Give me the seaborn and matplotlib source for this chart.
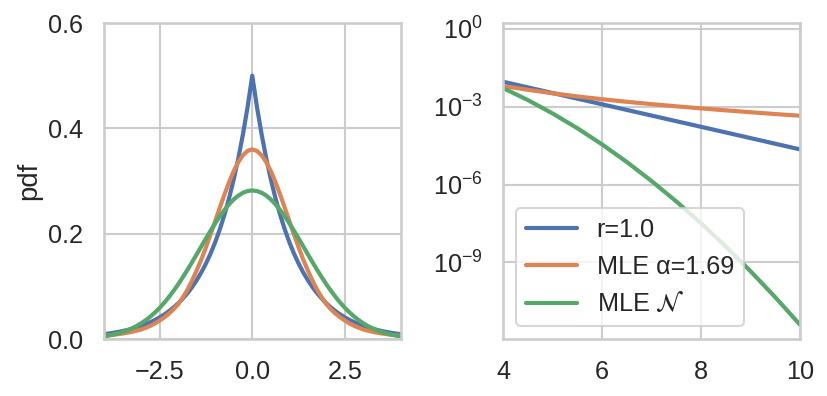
import numpy as np
import pandas as pd
import matplotlib
matplotlib.use("Agg")
import matplotlib.pyplot as plt
import seaborn as sns

# ---- data ----
x_body = [-4.0, -3.875, -3.75, -3.625, -3.5, -3.375, -3.25, -3.125, -3.0, -2.875, -2.75, -2.625,
          -2.5, -2.375, -2.25, -2.125, -2.0, -1.875, -1.75, -1.625, -1.5, -1.375, -1.25, -1.125,
          -1.0, -0.875, -0.75, -0.625, -0.5, -0.375, -0.25, -0.125,
          0.0, 0.125, 0.25, 0.375, 0.5, 0.625, 0.75, 0.875, 1.0, 1.125, 1.25, 1.375, 1.5,
          1.625, 1.75, 1.875, 2.0, 2.125, 2.25, 2.375, 2.5, 2.625, 2.75, 2.875, 3.0, 3.125,
          3.25, 3.375, 3.5, 3.625, 3.75, 3.875, 4.0]
laplace_body = [0.0092, 0.0104, 0.0118, 0.0133, 0.0151, 0.0171, 0.0194, 0.0220, 0.0249, 0.0282,
                0.0320, 0.0362, 0.0410, 0.0465, 0.0527, 0.0597, 0.0677, 0.0767, 0.0869, 0.0984,
                0.1116, 0.1264, 0.1433, 0.1623, 0.1839, 0.2084, 0.2362, 0.2676, 0.3033, 0.3436,
                0.3894, 0.4412,
                0.5000, 0.4412, 0.3894, 0.3436, 0.3033, 0.2676, 0.2362, 0.2084, 0.1839, 0.1623,
                0.1433, 0.1264, 0.1116, 0.0984, 0.0869, 0.0767, 0.0677, 0.0597, 0.0527, 0.0465,
                0.0410, 0.0362, 0.0320, 0.0282, 0.0249, 0.0220, 0.0194, 0.0171, 0.0151, 0.0133,
                0.0118, 0.0104, 0.0092]
stable_body = [0.0063, 0.0071, 0.0081, 0.0092, 0.0104, 0.0119, 0.0136, 0.0157, 0.0181, 0.0213,
               0.0250, 0.0296, 0.0350, 0.0410, 0.0480, 0.0562, 0.0660, 0.0788, 0.0934, 0.1108,
               0.1300, 0.1509, 0.1740, 0.1985, 0.2240, 0.2496, 0.2745, 0.2979, 0.3190, 0.3361,
               0.3490, 0.3572,
               0.3600, 0.3572, 0.3490, 0.3361, 0.3190, 0.2979, 0.2745, 0.2496, 0.2240, 0.1985,
               0.1740, 0.1509, 0.1300, 0.1108, 0.0934, 0.0788, 0.0660, 0.0562, 0.0480, 0.0410,
               0.0350, 0.0296, 0.0250, 0.0213, 0.0181, 0.0157, 0.0136, 0.0119, 0.0104, 0.0092,
               0.0081, 0.0071, 0.0063]
normal_body = [0.0052, 0.0066, 0.0084, 0.0106, 0.0132, 0.0164, 0.0201, 0.0245, 0.0297, 0.0357,
               0.0426, 0.0504, 0.0591, 0.0689, 0.0796, 0.0912, 0.1038, 0.1171, 0.1312, 0.1458,
               0.1607, 0.1759, 0.1909, 0.2056, 0.2197, 0.2330, 0.2451, 0.2559, 0.2650, 0.2724,
               0.2777, 0.2810,
               0.2821, 0.2810, 0.2777, 0.2724, 0.2650, 0.2559, 0.2451, 0.2330, 0.2197, 0.2056,
               0.1909, 0.1759, 0.1607, 0.1458, 0.1312, 0.1171, 0.1038, 0.0912, 0.0796, 0.0689,
               0.0591, 0.0504, 0.0426, 0.0357, 0.0297, 0.0245, 0.0201, 0.0164, 0.0132, 0.0106,
               0.0084, 0.0066, 0.0052]

x_tail = [4.0, 4.5, 5.0, 5.5, 6.0, 6.5, 7.0, 7.5, 8.0, 8.5, 9.0, 9.5, 10.0]
laplace_tail = [9.16e-3, 5.55e-3, 3.37e-3, 2.04e-3, 1.24e-3, 7.52e-4, 4.56e-4, 2.77e-4,
                1.68e-4, 1.02e-4, 6.17e-5, 3.74e-5, 2.27e-5]
stable_tail = [6.3e-3, 4.5e-3, 3.3e-3, 2.5e-3, 1.95e-3, 1.55e-3, 1.26e-3, 1.04e-3,
               8.65e-4, 7.27e-4, 6.15e-4, 5.24e-4, 4.5e-4]
normal_tail = [5.17e-3, 1.786e-3, 5.44e-4, 1.466e-4, 3.48e-5, 7.30e-6, 1.35e-6, 2.20e-7,
               3.17e-8, 4.03e-9, 4.52e-10, 4.48e-11, 3.92e-12]

labels = ["r=1.0", "MLE \u03b1=1.69", r"MLE $\mathcal{N}$"]
body_xticks = [-2.5, 0.0, 2.5]
body_yticks = [0.0, 0.2, 0.4, 0.6]
tail_xticks = [4, 6, 8, 10]
tail_yticks = [1e0, 1e-3, 1e-6, 1e-9]

# ---- style ----
sns.set_theme(context="talk", style="whitegrid", font_scale=1.1)
plt.rcParams["font.family"] = ["Liberation Sans", "DejaVu Sans"]
plt.rcParams["xtick.major.pad"] = 6
plt.rcParams["ytick.major.pad"] = 6
colors = sns.color_palette("deep")

fig, (ax1, ax2) = plt.subplots(1, 2, figsize=(8.28, 3.96), dpi=100)
fig.subplots_adjust(left=0.1256, right=0.9662, top=0.9419, bottom=0.1439, wspace=0.347)

body = [laplace_body, stable_body, normal_body]
tail = [laplace_tail, stable_tail, normal_tail]
for i in range(3):
    sns.lineplot(x=x_body, y=body[i], ax=ax1, color=colors[i], lw=3, legend=False)
    sns.lineplot(x=x_tail, y=tail[i], ax=ax2, color=colors[i], lw=3, label=labels[i])

ax1.set_xlim(-4, 4)
ax1.set_ylim(0, 0.6)
ax1.set_xticks(body_xticks)
ax1.set_yticks(body_yticks)
ax1.set_ylabel("pdf")

ax2.set_yscale("log")
ax2.set_xlim(4, 10)
ax2.set_ylim(1.1e-12, 1.7)
ax2.set_xticks(tail_xticks)
ax2.set_yticks(tail_yticks)
ax2.minorticks_off()
ax2.legend(loc="lower left")

fig.savefig("out.png", dpi=100)
